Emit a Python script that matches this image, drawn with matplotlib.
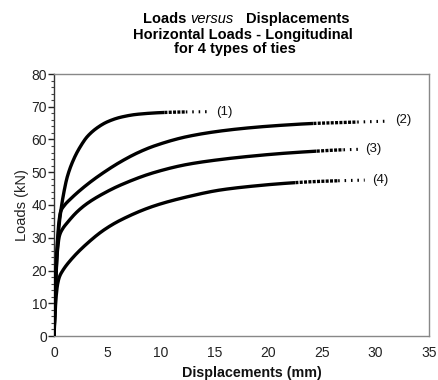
import matplotlib
matplotlib.use("Agg")
import matplotlib.pyplot as plt
import numpy as np

plt.rcParams['font.family'] = ['Liberation Sans', 'DejaVu Sans']

# ---- data ----
x1 = [0, 0.1, 0.2, 0.32, 0.45, 0.62, 0.9, 1.24, 1.87, 2.49, 3.11, 4.04, 4.98, 6.22, 7.78, 10.27, 12.0, 14.5]
y1 = [0, 10, 19, 27, 33, 37.8, 43.5, 48.6, 54.2, 58.0, 60.9, 63.6, 65.4, 66.8, 67.7, 68.25, 68.4, 68.5]

x2 = [0, 0.1, 0.2, 0.32, 0.45, 0.62, 0.9, 1.56, 3.11, 4.67, 6.22, 7.78, 9.33, 12.44, 15.56, 18.67, 21.5, 24.2, 27, 29, 31.2]
y2 = [0, 12, 22, 29, 34.5, 38.0, 39.6, 41.9, 46.3, 50.0, 53.2, 55.9, 58.0, 60.9, 62.6, 63.7, 64.4, 64.9, 65.2, 65.4, 65.6]

x3 = [0, 0.1, 0.2, 0.32, 0.5, 0.78, 1.24, 2.18, 3.11, 4.67, 6.22, 9.33, 12.44, 15.56, 18.67, 21.5, 24.8, 26.5, 28.4]
y3 = [0, 12, 20, 26, 30.5, 32.6, 34.6, 38.0, 40.5, 43.6, 46.1, 49.9, 52.4, 53.9, 55.0, 55.8, 56.5, 56.8, 57.0]

x4 = [0, 0.1, 0.2, 0.32, 0.5, 0.78, 1.56, 3.11, 4.67, 6.22, 9.33, 12.44, 15.56, 18.67, 21.5, 24, 26.5, 29]
y4 = [0, 7, 12, 15.5, 18.0, 19.8, 23.2, 28.3, 32.4, 35.4, 39.7, 42.5, 44.6, 45.8, 46.6, 47.1, 47.4, 47.6]

labels = ["(1)", "(2)", "(3)", "(4)"]
label_x = [15.1, 31.8, 29.0, 29.7]
label_y = [68.5, 65.9, 57.0, 47.6]
tail_start = [10.3, 24.2, 24.5, 22.5]
sparse_start = [12.3, 28.3, 27.0, 26.5]

xticks = [0, 5, 10, 15, 20, 25, 30, 35]
yticks = [0, 10, 20, 30, 40, 50, 60, 70, 80]


def pchip(xk, yk, xq):
    """Monotone piecewise cubic Hermite interpolation (Fritsch-Carlson)."""
    xk = np.asarray(xk, float)
    yk = np.asarray(yk, float)
    h = np.diff(xk)
    d = np.diff(yk) / h
    n = len(xk)
    m = np.zeros(n)
    for k in range(1, n - 1):
        if d[k - 1] * d[k] <= 0:
            m[k] = 0
        else:
            w1 = 2 * h[k] + h[k - 1]
            w2 = h[k] + 2 * h[k - 1]
            m[k] = (w1 + w2) / (w1 / d[k - 1] + w2 / d[k])
    m[0] = d[0]
    m[-1] = d[-1]
    idx = np.clip(np.searchsorted(xk, xq) - 1, 0, n - 2)
    t = (xq - xk[idx]) / h[idx]
    h00 = 2 * t**3 - 3 * t**2 + 1
    h10 = t**3 - 2 * t**2 + t
    h01 = -2 * t**3 + 3 * t**2
    h11 = t**3 - t**2
    return h00 * yk[idx] + h10 * h[idx] * m[idx] + h01 * yk[idx + 1] + h11 * h[idx] * m[idx + 1]


# ---- figure ----
W, H = 438, 380
fig = plt.figure(figsize=(W / 100, H / 100), dpi=100)
ax = fig.add_axes([54 / W, (H - 336) / H, (429 - 54) / W, (336 - 74) / H])

series = [(x1, y1), (x2, y2), (x3, y3), (x4, y4)]
for (xs, ys), ts, ss in zip(series, tail_start, sparse_start):
    xs = np.asarray(xs, float)
    xf = np.concatenate([np.linspace(0, 1.5, 400), np.linspace(1.5, xs[-1], 800)[1:]])
    yf = pchip(xs, ys, xf)
    main = xf <= ts
    ax.plot(xf[main], yf[main], color='black', lw=2.4, solid_capstyle='butt', zorder=3)
    dense = (xf >= ts) & (xf <= ss)
    ax.plot(xf[dense], yf[dense], color='black', lw=2.4, linestyle=(0, (0.9, 0.4)),
            dash_capstyle='butt', zorder=3)
    sparse = xf >= ss
    ax.plot(xf[sparse], yf[sparse], color='black', lw=2.2, linestyle=(0, (0.5, 1.6)),
            dash_capstyle='butt', zorder=3)

for t, lx, ly in zip(labels, label_x, label_y):
    ax.text(lx, ly, t, fontsize=9.5, ha='left', va='center', color='#111111')

ax.set_xlim(0, 35)
ax.set_ylim(0, 80)
ax.set_xticks(xticks)
ax.set_yticks(yticks)
ax.set_yticks(np.arange(0, 81, 2), minor=True)
ax.tick_params(axis='x', length=0, labelsize=10, pad=7, colors='#222222')
ax.tick_params(axis='y', which='major', length=4, direction='out', labelsize=10, pad=1,
               colors='#222222', width=1)
ax.tick_params(axis='y', which='minor', length=2.5, direction='out', width=0.8, colors='#444444')
for s in ax.spines.values():
    s.set_color('#888888')
    s.set_linewidth(1.0)
ax.spines['left'].set_color('#333333')

ax.set_ylabel("Loads (kN)", fontsize=10.5, labelpad=2, color='#222222')
fig.text(252 / W, 1 - 372.7 / H, "Displacements (mm)", fontsize=10.3, fontweight='bold',
         ha='center', va='center', color='#111111')

# ---- title ----
fig.text(143 / W, 1 - 22.7 / H, "Loads", fontsize=10.5, fontweight='bold', ha='left', va='baseline')
fig.text(190 / W, 1 - 22.7 / H, "versus", fontsize=10.5, fontstyle='italic', ha='left', va='baseline')
fig.text(246 / W, 1 - 22.7 / H, "Displacements", fontsize=10.5, fontweight='bold', ha='left', va='baseline')
fig.text(242.5 / W, 1 - 39.0 / H, "Horizontal Loads - Longitudinal", fontsize=10.5, fontweight='bold',
         ha='center', va='baseline')
fig.text(235 / W, 1 - 53.5 / H, "for 4 types of ties", fontsize=10.5, fontweight='bold',
         ha='center', va='baseline')

fig.savefig("out.png", dpi=100)
